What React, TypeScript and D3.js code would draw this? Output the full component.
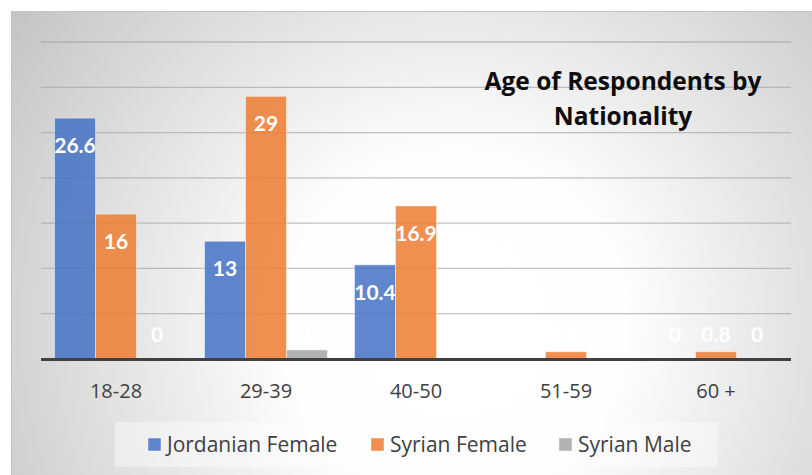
import React from "react";
import * as d3 from "d3";

const categories = ["18-28", "29-39", "40-50", "51-59", "60 +"];
const seriesNames = ["Jordanian Female", "Syrian Female", "Syrian Male"];
const jordanianFemale = [26.6, 13, 10.4, 0, 0];
const syrianFemale = [16, 29, 16.9, 0.8, 0.8];
const syrianMale = [0, 1, 0, 0, 0];
const seriesValues = [jordanianFemale, syrianFemale, syrianMale];
const seriesColors = ["#4472C4", "#ED7D31", "#A5A5A5"];
const titleLines = ["Age of Respondents by", "Nationality"];

const W = 812;
const H = 475;
const plot = { left: 41, right: 791, top: 42, bottom: 359 };

export default function App() {
  const x0 = d3.scaleBand<string>().domain(categories).range([plot.left, plot.right]).padding(0);
  const x1 = d3
    .scaleBand<string>()
    .domain(seriesNames)
    .range([0, x0.bandwidth()])
    .paddingInner(0)
    .paddingOuter(0.33);
  const y = d3.scaleLinear().domain([0, 35]).range([plot.bottom, plot.top]);
  const ticks = y.ticks(7).filter((t) => t > 0);

  const legendX = [148, 371, 559];

  return (
    <svg
      width={W}
      height={H}
      style={{ position: "absolute", left: 0, top: 0, display: "block" }}
    >
      <defs>
        <radialGradient id="bg" gradientUnits="userSpaceOnUse" cx={455} cy={325} r={530}>
          <stop offset="0" stopColor="#ffffff" />
          <stop offset="0.32" stopColor="#fefefe" />
          <stop offset="1" stopColor="#c6c6c6" />
        </radialGradient>
      </defs>
      <rect x={0} y={0} width={W} height={H} fill="#ffffff" />
      <rect x={11.5} y={11.5} width={W} height={H} fill="url(#bg)" stroke="#c4c4c4" strokeWidth={1} />

      {ticks.map((t) => (
        <line
          key={t}
          x1={plot.left}
          x2={plot.right}
          y1={y(t)}
          y2={y(t)}
          stroke="#a6a6a6"
          strokeOpacity={0.7}
          strokeWidth={1.3}
        />
      ))}

      {categories.map((c, ci) => (
        <g key={c} transform={`translate(${x0(c)},0)`}>
          {seriesNames.map((s, si) => {
            const v = seriesValues[si][ci];
            const bx = x1(s)!;
            const top = y(v);
            return (
              <rect
                key={s}
                x={bx}
                y={top}
                width={x1.bandwidth()}
                height={plot.bottom - top}
                fill={seriesColors[si]}
                fillOpacity={0.85}
                stroke="#ffffff"
                strokeOpacity={0.45}
                strokeWidth={1}
              />
            );
          })}
        </g>
      ))}

      <line x1={plot.left} x2={plot.right} y1={plot.bottom + 0.5} y2={plot.bottom + 0.5} stroke="#404040" strokeWidth={3} />

      {categories.map((c, ci) => (
        <g key={c + "lab"}>
          {seriesNames.map((s, si) => {
            const v = seriesValues[si][ci];
            const cx = x0(c)! + x1(s)! + x1.bandwidth() / 2;
            const by = Math.min(y(v) + 35, plot.bottom - 17);
            return (
              <text
                key={s}
                x={cx}
                y={by}
                textAnchor="middle"
                fill="#ffffff"
                fontFamily="Lato, 'Open Sans', sans-serif"
                fontWeight="bold"
                fontSize={21}
              >
                {String(v)}
              </text>
            );
          })}
        </g>
      ))}

      {categories.map((c) => (
        <text
          key={c + "ax"}
          x={x0(c)! + x0.bandwidth() / 2}
          y={398}
          textAnchor="middle"
          fill="#404040"
          fontFamily="'Open Sans', sans-serif"
          fontSize={20}
        >
          {c}
        </text>
      ))}

      {titleLines.map((t, i) => (
        <text
          key={t}
          x={623}
          y={90 + i * 35}
          textAnchor="middle"
          fill="#0d0d0d"
          fontFamily="'Open Sans', sans-serif"
          fontWeight="bold"
          fontSize={24.5}
        >
          {t}
        </text>
      ))}

      <rect x={115} y={422} width={603} height={45} fill="#ffffff" fillOpacity={0.4} />
      {seriesNames.map((s, i) => (
        <g key={s + "leg"}>
          <rect
            x={legendX[i]}
            y={438}
            width={13}
            height={13}
            fill={seriesColors[i]}
            fillOpacity={0.85}
            stroke="#ffffff"
            strokeOpacity={0.45}
          />
          <text
            x={legendX[i] + 19}
            y={452}
            fill="#404040"
            fontFamily="'Open Sans', sans-serif"
            fontSize={21}
          >
            {s}
          </text>
        </g>
      ))}
    </svg>
  );
}
